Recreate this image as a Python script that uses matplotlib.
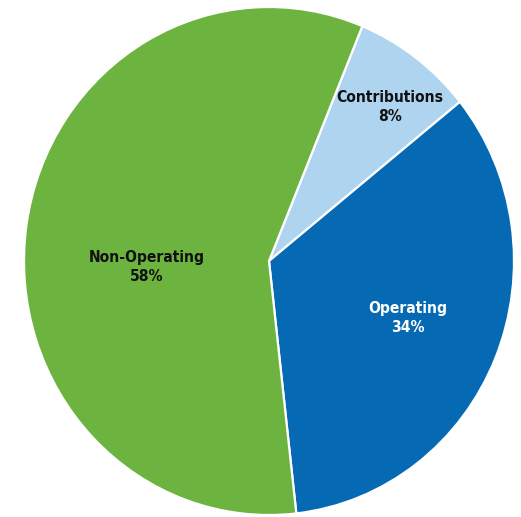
import matplotlib
matplotlib.use("Agg")
import matplotlib.pyplot as plt

# revenue sources, clockwise from the top
labels = ["Contributions", "Operating", "Non-Operating"]
shares = [8, 34, 58]
colors = ["#aed4f0", "#0569b3", "#6cb33f"]
text_colors = ["#111111", "#ffffff", "#111111"]

# where each label block sits, in axes data units
label_xy = [(0.494, 0.605), (0.565, -0.225), (-0.500, -0.025)]

plt.rcParams["font.family"] = ["DejaVu Sans"]

fig = plt.figure(figsize=(5.21, 5.17), dpi=100)
W, H = 521, 517
ax = fig.add_axes([24 / W, (H - 515) / H, 490 / W, 508 / H])

ax.pie(shares, colors=colors, startangle=67.6, counterclock=False,
       wedgeprops={"edgecolor": "white", "linewidth": 1.6})
ax.set_aspect("auto")
ax.set_xlim(-1, 1)
ax.set_ylim(-1, 1)
ax.axis("off")

for lab, val, (x, y), tc in zip(labels, shares, label_xy, text_colors):
  ax.text(x, y, f"{lab}\n{val}%", ha="center", va="center", fontstretch="condensed",
          fontsize=11.2, fontweight="bold", color=tc, linespacing=1.35)

fig.savefig("out.png", dpi=100)
